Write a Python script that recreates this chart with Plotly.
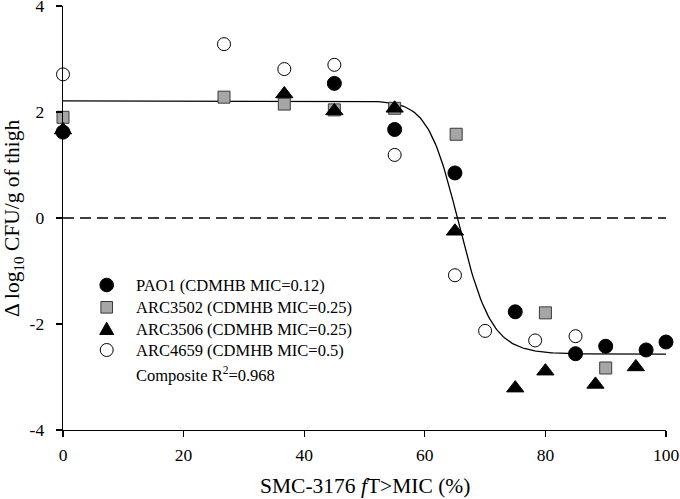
import numpy as np
import plotly.graph_objects as go

# ---- data ----
pao1_x = [0, 45, 55, 65, 75, 85, 90, 96.7, 100]
pao1_y = [1.62, 2.54, 1.67, 0.85, -1.77, -2.56, -2.42, -2.49, -2.34]

arc3502_x = [0, 26.7, 36.7, 45, 55, 65.2, 80, 90]
arc3502_y = [1.90, 2.28, 2.15, 2.04, 2.07, 1.58, -1.79, -2.83]

arc3506_x = [0, 36.7, 45, 55, 65, 75, 80, 88.3, 95]
arc3506_y = [1.66, 2.34, 2.02, 2.07, -0.25, -3.21, -2.89, -3.14, -2.81]

arc4659_x = [0, 26.7, 36.7, 45, 55, 65, 70, 78.3, 85]
arc4659_y = [2.71, 3.28, 2.81, 2.89, 1.19, -1.08, -2.13, -2.31, -2.23]

# composite sigmoid Emax (Hill) fit parameters
FIT_E0 = 2.21
FIT_EMAX = 4.78
FIT_EC50 = 65.8
FIT_HILL = 25.0

x_ticks = [0, 20, 40, 60, 80, 100]
x_ticktext = ["0", "20", "40", "60", "80", "100"]
y_ticks = [-4, -2, 0, 2, 4]
y_ticktext = ["-4", "-2", "0", "2", "4"]

series_names = [
    "PAO1 (CDMHB MIC=0.12)",
    "ARC3502 (CDMHB MIC=0.25)",
    "ARC3506 (CDMHB MIC=0.25)",
    "ARC4659 (CDMHB MIC=0.5)",
]
composite_label = "Composite R<sup>2</sup>=0.968"
x_title = "SMC-3176 <i>f</i>T>MIC (%)"
y_title = "Δ log<sub>10</sub> CFU/g of thigh"

FONT = "Liberation Serif, Times New Roman, serif"

# layout geometry (pixels)
W, H = 680, 499
ML, MR, MT, MB = 63, 14, 6, 69
PW, PH = W - ML - MR, H - MT - MB


def px_x(p):
    return (p - ML) / PW


def px_y(p):
    return (H - MB - p) / PH


fit_x = np.linspace(0, 100, 401)
fit_y = FIT_E0 - FIT_EMAX * fit_x**FIT_HILL / (FIT_EC50**FIT_HILL + fit_x**FIT_HILL)

fig = go.Figure()

fig.add_trace(go.Scatter(x=[0, 100], y=[0, 0], mode="lines",
                         line=dict(color="black", width=1.3, dash="11px,6px"),
                         showlegend=False, hoverinfo="skip", cliponaxis=False))
fig.add_trace(go.Scatter(x=fit_x, y=fit_y, mode="lines",
                         line=dict(color="black", width=1.3),
                         showlegend=False, hoverinfo="skip", cliponaxis=False))

styles = [
    dict(symbol="circle", size=14, color="black", line=dict(color="black", width=1)),
    dict(symbol="square", size=12, color="#a6a6a6", line=dict(color="#3a3a3a", width=1)),
    dict(symbol="triangle-up", size=15, color="black", line=dict(color="black", width=1)),
    dict(symbol="circle", size=13, color="white", line=dict(color="black", width=1)),
]
series = [(pao1_x, pao1_y), (arc3502_x, arc3502_y), (arc3506_x, arc3506_y), (arc4659_x, arc4659_y)]
for (sx, sy), name, st in zip(series, series_names, styles):
    fig.add_trace(go.Scatter(x=sx, y=sy, mode="markers", name=name, marker=st,
                             showlegend=False, cliponaxis=False))

# ---- hand-built legend (reference spacing) ----
sym_x = px_x(106.7)
txt_x = px_x(133.5)
row_y = [px_y(285), px_y(307.3), px_y(329), px_y(350)]
comp_y = px_y(374)

shapes = []
common = dict(xref="paper", yref="paper", xsizemode="pixel", ysizemode="pixel")
shapes.append(dict(type="circle", xanchor=sym_x, yanchor=row_y[0], x0=-6.8, x1=6.8, y0=-6.8, y1=6.8,
                   fillcolor="black", line=dict(color="black", width=1), **common))
shapes.append(dict(type="rect", xanchor=sym_x, yanchor=row_y[1], x0=-5.8, x1=5.8, y0=-5.8, y1=5.8,
                   fillcolor="#a6a6a6", line=dict(color="#3a3a3a", width=1), **common))
shapes.append(dict(type="path", xanchor=sym_x, yanchor=row_y[2], path="M-7,-5.5 L7,-5.5 L0,6.8 Z",
                   fillcolor="black", line=dict(color="black", width=1), **common))
shapes.append(dict(type="circle", xanchor=sym_x, yanchor=row_y[3], x0=-6.5, x1=6.5, y0=-6.5, y1=6.5,
                   fillcolor="white", line=dict(color="black", width=1), **common))

annotations = []
for name, yy in zip(series_names, row_y):
    annotations.append(dict(text=name, xref="paper", yref="paper", x=txt_x, y=yy,
                            xanchor="left", yanchor="middle", showarrow=False,
                            font=dict(family=FONT, size=16.5, color="black")))
annotations.append(dict(text=composite_label, xref="paper", yref="paper", x=txt_x, y=comp_y,
                        xanchor="left", yanchor="middle", showarrow=False,
                        font=dict(family=FONT, size=16.5, color="black")))
annotations.append(dict(text=x_title, xref="paper", yref="paper", x=0.5, y=px_y(486),
                        xanchor="center", yanchor="middle", showarrow=False,
                        font=dict(family=FONT, size=21.5, color="black")))
annotations.append(dict(text=y_title, xref="paper", yref="paper", x=px_x(13), y=0.5,
                        xanchor="center", yanchor="middle", showarrow=False, textangle=-90,
                        font=dict(family=FONT, size=21.5, color="black")))

fig.update_layout(
    width=W, height=H,
    margin=dict(l=ML, r=MR, t=MT, b=MB, autoexpand=False),
    paper_bgcolor="white", plot_bgcolor="white",
    font=dict(family=FONT, size=17.5, color="black"),
    showlegend=False,
    hovermode=False,
    shapes=shapes,
    annotations=annotations,
    xaxis=dict(range=[0, 100], tickvals=x_ticks, ticktext=x_ticktext, automargin=False,
               showline=True, linecolor="black", linewidth=1.3,
               ticks="outside", ticklen=6, tickwidth=1.3, tickcolor="black",
               showgrid=False, zeroline=False, mirror=False, ticklabelstandoff=3,
               ticklabeloverflow="allow",
               tickfont=dict(family=FONT, size=17.5)),
    yaxis=dict(range=[-4, 4], tickvals=y_ticks, ticktext=y_ticktext, automargin=False,
               showline=True, linecolor="black", linewidth=1.3,
               ticks="outside", ticklen=6, tickwidth=1.3, tickcolor="black",
               showgrid=False, zeroline=False, mirror=False, ticklabelstandoff=8,
               ticklabeloverflow="allow",
               tickfont=dict(family=FONT, size=17.5)),
)

fig.write_html("out.html", config={"displayModeBar": False, "staticPlot": True},
               post_script="document.body.style.margin='0';")
